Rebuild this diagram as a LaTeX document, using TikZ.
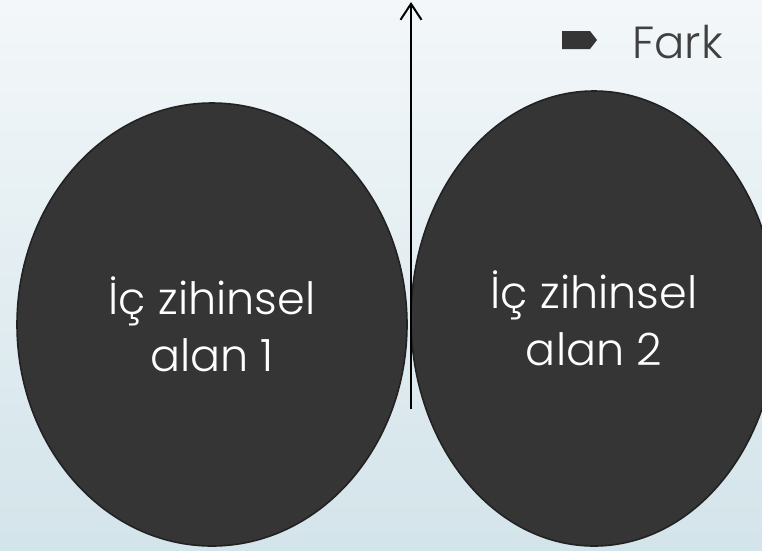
\documentclass[tikz,border=0pt]{standalone}
\usepackage{fontspec}
\setmainfont{Poppins Light}
\usetikzlibrary{shapes.geometric,arrows.meta}
\definecolor{bgtop}{RGB}{243,247,249}
\definecolor{bgbot}{RGB}{211,228,234}
\definecolor{blobfill}{RGB}{53,53,53}
\definecolor{blobline}{RGB}{34,34,34}
\definecolor{farkgray}{RGB}{64,64,64}
\tikzset{
  blob/.style={ellipse, fill=blobfill, draw=blobline, line width=1.6pt, inner sep=0pt,
    text=white, align=center, font=\fontsize{44.5}{57}\selectfont},
  farklabel/.style={text=farkgray, font=\fontsize{45}{50}\selectfont, anchor=base west, inner sep=0pt},
  upline/.style={line width=2pt, -{Straight Barb[length=16pt,width=21pt]}}
}
\begin{document}
\begin{tikzpicture}[x=1pt,y=-1pt]
\shade[top color=bgtop,bottom color=bgbot] (0,0) rectangle (762,550);
\useasboundingbox (0,0) rectangle (762,550);
\begin{scope}
\clip (0,0) rectangle (762,550);
\node[blob, minimum width=390pt, minimum height=443pt] (e1) at (212,324.5) {İç zihinsel\\alan 1};
\node[blob, minimum width=366pt, minimum height=455pt] (e2) at (594,318.5) {İç zihinsel\\alan 2};
\coordinate (ab) at (411,409);
\coordinate (at) at (411,2);
\draw[upline] (ab) -- (at);
\fill[blobfill] (562,31) -- (590,31) -- (597,40) -- (590,49) -- (562,49) -- cycle;
\node[farklabel] (fark) at (632,58) {Fark};
\end{scope}
\end{tikzpicture}
\end{document}
